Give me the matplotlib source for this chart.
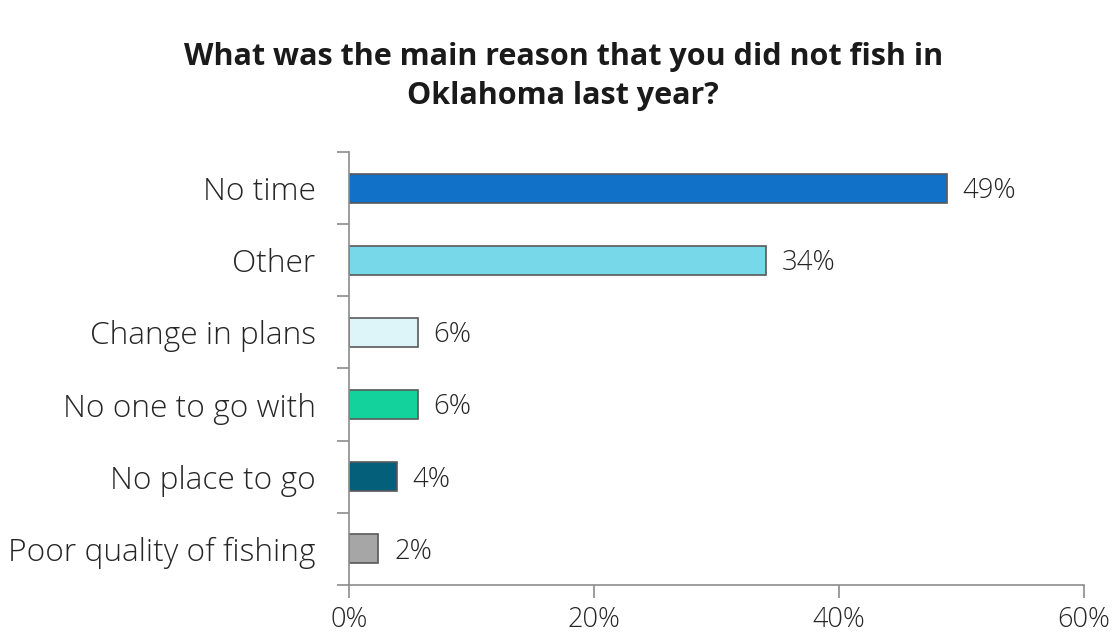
import matplotlib.pyplot as plt

# data
reasons = ["No time", "Other", "Change in plans", "No one to go with",
           "No place to go", "Poor quality of fishing"]
percent = [48.8, 34.0, 5.6, 5.6, 3.9, 2.4]
labels = ["49%", "34%", "6%", "6%", "4%", "2%"]
colors = ["#1170C8", "#76D8E8", "#DDF5F8", "#13D29B", "#035F7A", "#A6A6A6"]
xticks = [0, 20, 40, 60]

plt.rcParams['font.family'] = ['Open Sans', 'DejaVu Sans']

fig = plt.figure(figsize=(11.13, 6.36), dpi=100)
ax = fig.add_axes([0.3136, 0.0802, 0.6604, 0.6808])

pos = list(range(len(reasons)))
ax.barh(pos, percent, height=0.4, color=colors, edgecolor="#595959", linewidth=1.2)

for p, v, t in zip(pos, percent, labels):
    ax.text(v + 1.3, p + 0.04, t, va="center", ha="left", fontsize=19.8,
            fontweight="light", color="#262626")

ax.set_ylim(len(reasons) - 0.5, -0.5)
ax.set_xlim(0, 60)

# category labels without tick marks, tick marks between categories
ax.set_yticks(pos)
ax.set_yticklabels(reasons, fontsize=22.8, fontweight="light", color="#262626")
ax.tick_params(axis="y", length=0, pad=24)
ax.set_yticks([p - 0.5 for p in range(len(reasons) + 1)], minor=True)
ax.tick_params(axis="y", which="minor", length=9, width=1.2, color="#8c8c8c")

ax.set_xticks(xticks)
ax.set_xticklabels([f"{x}%" for x in xticks], fontsize=19.5, fontweight="light",
                   color="#262626")
ax.tick_params(axis="x", length=9, width=1.2, color="#8c8c8c", pad=6)

for s in ["top", "right"]:
    ax.spines[s].set_visible(False)
for s in ["left", "bottom"]:
    ax.spines[s].set_color("#8c8c8c")
    ax.spines[s].set_linewidth(1.2)

fig.text(0.506, 0.88, "What was the main reason that you did not fish in\nOklahoma last year?",
         ha="center", va="center", fontsize=22, fontweight="bold",
         color="#1a1a1a", linespacing=1.4)

fig.savefig("out.png", dpi=100)
